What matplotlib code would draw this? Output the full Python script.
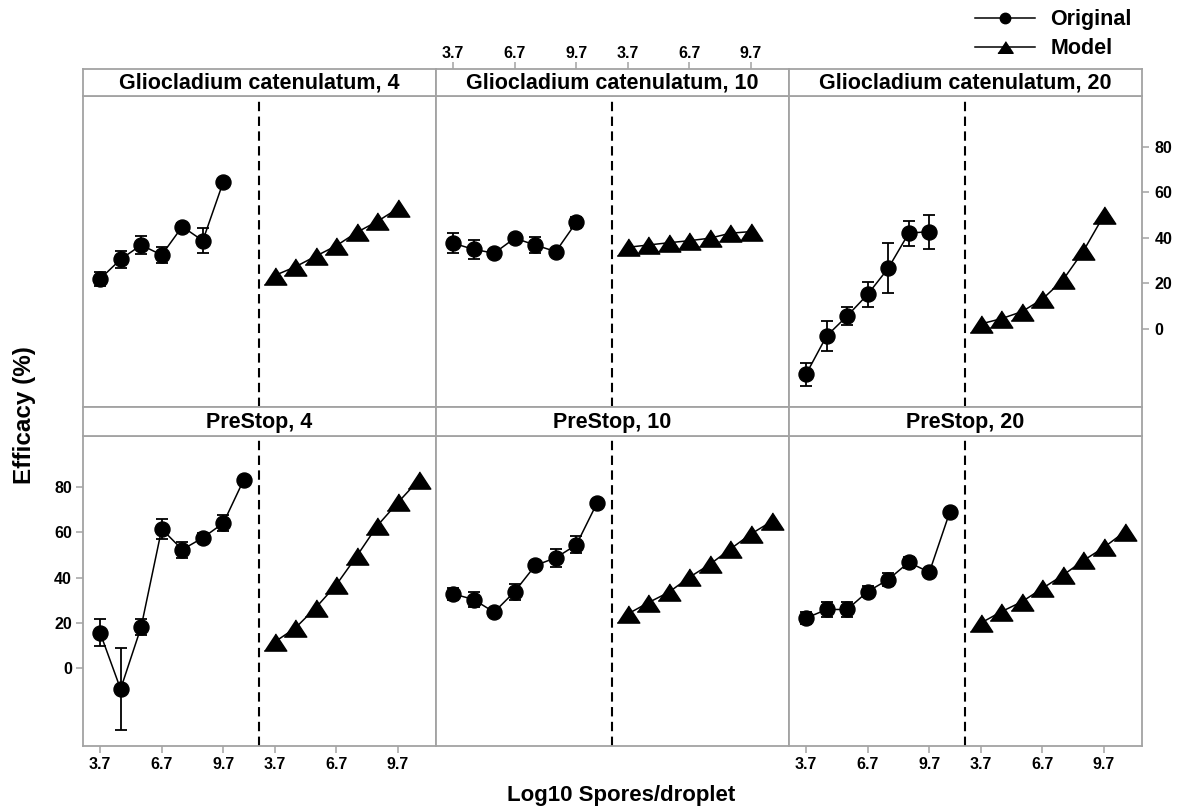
import matplotlib
matplotlib.use("Agg")
import matplotlib.pyplot as plt
from matplotlib.lines import Line2D

plt.rcParams['font.family'] = ['Liberation Sans', 'DejaVu Sans']

# ---------------- data ----------------
doses = [3.7, 4.7, 5.7, 6.7, 7.7, 8.7, 9.7, 10.7]
tick_values = [3.7, 6.7, 9.7]
tick_labels = ["3.7", "6.7", "9.7"]
y_ticks = [0, 20, 40, 60, 80]

panel_titles = ["Gliocladium catenulatum, 4", "Gliocladium catenulatum, 10",
                "Gliocladium catenulatum, 20", "PreStop, 4", "PreStop, 10", "PreStop, 20"]

gc4_orig = [22.0, 30.6, 36.9, 32.5, 45.0, 38.8, 64.7]
gc4_err = [3.0, 3.7, 3.8, 3.5, 1.5, 5.5, 1.0]
gc4_model = [23.5, 27.3, 32.0, 36.6, 42.5, 47.3, 53.0]

gc10_orig = [37.7, 35.0, 33.3, 39.9, 36.9, 34.0, 46.9]
gc10_err = [4.4, 4.1, 1.5, 1.5, 3.7, 1.0, 2.5]
gc10_model = [35.9, 36.9, 37.9, 38.8, 39.9, 42.1, 42.8]

gc20_orig = [-19.9, -3.1, 5.7, 15.2, 26.7, 42.1, 42.8]
gc20_err = [5.0, 6.8, 4.0, 5.6, 11.0, 5.5, 7.5]
gc20_model = [2.2, 4.5, 7.6, 13.1, 21.5, 34.3, 50.0]

ps4_orig = [15.7, -9.2, 18.2, 61.4, 52.3, 57.5, 64.0, 83.2]
ps4_err = [5.8, 18.0, 3.5, 4.2, 3.5, 2.0, 3.5, 1.0]
ps4_model = [11.6, 17.7, 26.7, 36.8, 49.5, 62.9, 73.1, 82.9]

ps10_orig = [32.8, 30.3, 24.7, 33.8, 45.3, 48.7, 54.4, 72.7]
ps10_err = [2.5, 3.3, 1.5, 3.5, 2.0, 4.0, 3.7, 1.5]
ps10_model = [23.9, 28.9, 33.5, 40.1, 45.8, 52.6, 59.2, 64.7]

ps20_orig = [22.1, 25.9, 25.9, 33.8, 39.1, 46.7, 42.3, 69.0]
ps20_err = [2.5, 3.2, 3.3, 2.5, 3.0, 2.5, 1.0, 1.0]
ps20_model = [19.9, 24.9, 29.3, 35.2, 41.0, 47.5, 53.3, 60.1]

panels = [
    (gc4_orig, gc4_err, gc4_model),
    (gc10_orig, gc10_err, gc10_model),
    (gc20_orig, gc20_err, gc20_model),
    (ps4_orig, ps4_err, ps4_model),
    (ps10_orig, ps10_err, ps10_model),
    (ps20_orig, ps20_err, ps20_model),
]

# ---------------- layout ----------------
W, H = 1188, 810
fig = plt.figure(figsize=(W / 100, H / 100), dpi=100)

def fx(px):
    return px / W

def fy(py):
    return 1 - py / H

MODEL_SHIFT = 8.5          # model half sits to the right of the original half
DIVIDER = 11.45
XLIM = (2.87, 20.05)
YLIM = (-34.3, 102.4)
GRAY = '#a3a3a3'
TRI = [(-1, -0.76), (1, -0.76), (0, 0.76)]
TICK_FS = 11.5

col_left = [83, 436, 789]
col_w = 353
rows = [(69, 96, 407), (407, 436, 746)]  # strip top, plot top, plot bottom

def style_spines(ax):
    for s in ax.spines.values():
        s.set_color(GRAY)
        s.set_linewidth(1.3)

for i, (orig, err, model) in enumerate(panels):
    r, c = divmod(i, 3)
    st, pt, pb = rows[r]
    left = col_left[c]
    ax = fig.add_axes([fx(left), fy(pb), fx(col_w), (pb - pt) / H])
    sax = fig.add_axes([fx(left), fy(pt), fx(col_w), (pt - st) / H])

    n = len(orig)
    xs = doses[:n]
    xm = [d + MODEL_SHIFT for d in doses[:len(model)]]

    ax.errorbar(xs, orig, yerr=err, fmt='none', ecolor='black', elinewidth=1.3,
                capsize=4.5, capthick=1.3, zorder=2)
    ax.plot(xs, orig, '-', color='black', lw=1.1, marker='o', ms=10.8,
            mfc='black', mec='black', zorder=3)
    ax.plot(xm, model, '-', color='black', lw=1.1, marker=TRI, ms=16.3,
            mfc='black', mec='black', zorder=3)
    ax.axvline(DIVIDER, color='black', lw=1.5, linestyle=(0, (4.5, 2.6)), zorder=1)

    ax.set_xlim(*XLIM)
    ax.set_ylim(*YLIM)
    style_spines(ax)
    ax.tick_params(which='both', bottom=False, top=False, left=False, right=False,
                   labelbottom=False, labeltop=False, labelleft=False, labelright=False)

    xt = tick_values + [t + MODEL_SHIFT for t in tick_values]
    xl = tick_labels + tick_labels
    ax.set_xticks(xt)
    ax.set_xticklabels(xl, fontsize=TICK_FS, fontweight='bold')
    ax.set_yticks(y_ticks)
    ax.set_yticklabels([str(v) for v in y_ticks], fontsize=TICK_FS, fontweight='bold')

    if r == 1 and c in (0, 2):
        ax.tick_params(axis='x', bottom=True, labelbottom=True, color=GRAY,
                       length=5, width=1.1, pad=3)
    if r == 1 and c == 0:
        ax.tick_params(axis='y', left=True, labelleft=True, color=GRAY,
                       length=5, width=1.1, pad=3)
    if r == 0 and c == 2:
        ax.tick_params(axis='y', right=True, labelright=True, color=GRAY,
                       length=5, width=1.1, pad=4)

    # strip
    sax.set_xlim(*XLIM)
    sax.set_ylim(0, 1)
    sax.set_facecolor('white')
    style_spines(sax)
    sax.tick_params(which='both', bottom=False, top=False, left=False, right=False,
                    labelbottom=False, labeltop=False, labelleft=False, labelright=False)
    sax.set_yticks([])
    if r == 0 and c == 1:
        sax.set_xticks(xt)
        sax.set_xticklabels(xl, fontsize=TICK_FS, fontweight='bold')
        sax.tick_params(axis='x', top=True, labeltop=True, color=GRAY,
                        length=5, width=1.1, pad=1)
    else:
        sax.set_xticks([])
    sax.text(0.5, 0.47, panel_titles[i], transform=sax.transAxes, ha='center',
             va='center', fontsize=15.5, fontweight='bold')

# axis labels
fig.text(fx(24), fy(415), 'Efficacy (%)', rotation=90, ha='center', va='center',
         fontsize=17.5, fontweight='bold')
fig.text(fx(621), fy(795), 'Log10 Spores/droplet', ha='center', va='center',
         fontsize=16, fontweight='bold')

# legend
handles = [
    Line2D([0], [0], color='black', lw=1.1, marker='o', ms=7.5, mfc='black', mec='black'),
    Line2D([0], [0], color='black', lw=1.1, marker=TRI, ms=11, mfc='black', mec='black'),
]
fig.legend(handles, ['Original', 'Model'], loc='upper left',
           bbox_to_anchor=(fx(960), fy(-6)), frameon=False,
           prop={'size': 15.5, 'weight': 'bold'}, handlelength=2.8,
           handletextpad=0.7, labelspacing=0.38, borderpad=0.2)

fig.savefig('out.png', dpi=100)
